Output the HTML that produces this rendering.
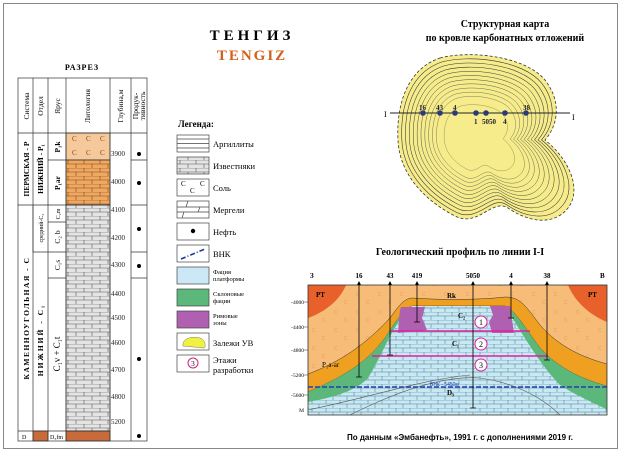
<!DOCTYPE html>
<html><head><meta charset="utf-8"><style>
html,body{margin:0;padding:0;background:#fff}
svg{display:block}
text{font-family:"Liberation Serif","DejaVu Serif",serif}
.s{font-family:"Liberation Sans","DejaVu Sans",sans-serif}
</style></head><body>
<svg width="624" height="453" viewBox="0 0 624 453" xmlns="http://www.w3.org/2000/svg">
<defs>
<pattern id="brG" width="16" height="8" patternUnits="userSpaceOnUse">
<rect width="16" height="8" fill="#e4e4e4"/><path d="M0 0H16M0 4H16M4 0V4M12 4V8" stroke="#555" stroke-width="0.6" fill="none"/></pattern>
<pattern id="brO" width="16" height="8" patternUnits="userSpaceOnUse">
<rect width="16" height="8" fill="#f0a860"/><path d="M0 0H16M0 4H16M4 0V4M12 4V8" stroke="#7a4a20" stroke-width="0.6" fill="none"/></pattern>
<pattern id="brB" width="14" height="8" patternUnits="userSpaceOnUse">
<rect width="14" height="8" fill="#c8e8f4"/><path d="M0 0H14M0 4H14M4 0V4M11 4V8" stroke="#4a7a8a" stroke-width="0.5" fill="none"/></pattern>
<pattern id="salt" width="22" height="18" patternUnits="userSpaceOnUse">
<rect width="22" height="18" fill="#f6bc78"/><text x="4" y="8" font-size="5" fill="#e8a060" class="s">C</text><text x="14" y="16" font-size="5" fill="#e8a060" class="s">C</text></pattern>
<path id="ct" d="M440 58C470 50 525 56 545 80C562 102 558 125 545 140C570 160 582 190 568 208C552 228 525 220 508 208C492 198 478 228 455 216C420 198 399 170 398 140C396 100 410 68 440 58Z" fill="none" stroke="#333" stroke-width="0.6"/>
</defs>
<rect x="3.5" y="3.5" width="614" height="445" fill="#fff" stroke="#888" stroke-width="1"/>

<text x="252" y="40" font-size="15" font-weight="bold" text-anchor="middle" letter-spacing="4">ТЕНГИЗ</text>
<text x="252" y="60" font-size="15" font-weight="bold" text-anchor="middle" fill="#d2601e" letter-spacing="2">TENGIZ</text>
<text x="82" y="70" font-size="8" font-weight="bold" text-anchor="middle" letter-spacing="1">РАЗРЕЗ</text>

<g stroke="#333" stroke-width="0.7" fill="none">
<rect x="66" y="133" width="44" height="27" fill="#f6c99a"/>
<rect x="66" y="160" width="44" height="45" fill="url(#brO)"/>
<rect x="66" y="205" width="44" height="226" fill="url(#brG)"/>
<rect x="66" y="431" width="44" height="10" fill="#c86a3a"/>
<rect x="33" y="431" width="15" height="10" fill="#c86a3a"/>
<rect x="18" y="78" width="129" height="363"/>
<path d="M18 133H147M33 78V441M48 78V441M66 78V441M110 78V441M131 78V441"/>
<path d="M18 205H110M48 160H66M33 205V252M48 222H66M33 252H66M48 278H66M18 431H110M131 160H147M131 205H147M131 252H147M131 278H147"/>
</g>
<g font-size="7" fill="#7a4a20" class="s"><text x="72" y="141">C</text><text x="86" y="141">C</text><text x="100" y="141">C</text><text x="72" y="155">C</text><text x="86" y="155">C</text><text x="100" y="155">C</text></g>
<g font-size="7" fill="#222">
<text x="111" y="156">3900</text><text x="111" y="184">4000</text><text x="111" y="212">4100</text><text x="111" y="240">4200</text><text x="111" y="267">4300</text><text x="111" y="296">4400</text><text x="111" y="320">4500</text><text x="111" y="345">4600</text><text x="111" y="372">4700</text><text x="111" y="399">4800</text><text x="111" y="424">5200</text>
</g>
<g fill="#000"><circle cx="139" cy="154" r="2"/><circle cx="139" cy="183" r="2"/><circle cx="139" cy="229" r="2"/><circle cx="139" cy="266" r="2"/><circle cx="139" cy="359" r="2"/><circle cx="139" cy="436" r="2"/></g>
<g font-size="7.5">
<text transform="translate(29,106) rotate(-90)" text-anchor="middle">Система</text>
<text transform="translate(43,106) rotate(-90)" text-anchor="middle">Отдел</text>
<text transform="translate(60,106) rotate(-90)" text-anchor="middle">Ярус</text>
<text transform="translate(90,106) rotate(-90)" text-anchor="middle">Литология</text>
<text transform="translate(123,106) rotate(-90)" text-anchor="middle">Глубина,м</text>
<text transform="translate(138,106) rotate(-90)" text-anchor="middle">Продук-</text>
<text transform="translate(145,106) rotate(-90)" text-anchor="middle">тивность</text>
<text transform="translate(29,169) rotate(-90)" text-anchor="middle" font-weight="bold">ПЕРМСКАЯ - Р</text>
<text transform="translate(43,169) rotate(-90)" text-anchor="middle" font-weight="bold">НИЖНИЙ - Р₁</text>
<text transform="translate(60,147) rotate(-90)" text-anchor="middle" font-weight="bold">P₁k</text>
<text transform="translate(60,183) rotate(-90)" text-anchor="middle" font-weight="bold">P₁ar</text>
<text transform="translate(29,318) rotate(-90)" text-anchor="middle" font-weight="bold" letter-spacing="1.5">КАМЕННОУГОЛЬНАЯ - С</text>
<text transform="translate(43,228) rotate(-90)" text-anchor="middle" font-size="6">средний-С₂</text>
<text transform="translate(43,340) rotate(-90)" text-anchor="middle" font-weight="bold" letter-spacing="2">НИЖНИЙ - С₁</text>
<text transform="translate(60,214) rotate(-90)" text-anchor="middle" font-size="6">C₂m</text>
<text transform="translate(60,237) rotate(-90)" text-anchor="middle">C₂ b</text>
<text transform="translate(60,265) rotate(-90)" text-anchor="middle">C₁s</text>
<text transform="translate(60,354) rotate(-90)" text-anchor="middle" font-size="9">C₁v + C₁t</text>
<text x="22" y="439" font-size="6">D</text><text x="50" y="439" font-size="6">D₃fm</text>
</g>

<text x="178" y="127" font-size="9" font-weight="bold">Легенда:</text>
<g stroke="#444" stroke-width="0.7">
<rect x="177" y="135" width="32" height="17" fill="#fff"/><path d="M177 139H209M177 143.5H209M177 148H209"/>
<rect x="177" y="157" width="32" height="17" fill="url(#brG)"/>
<rect x="177" y="179" width="32" height="17" fill="#fff"/>
<rect x="177" y="201" width="32" height="17" fill="#fff"/><path d="M177 207H209M177 212H209M188 201L186 207M200 207L198 212M184 212L182 218"/>
<rect x="177" y="223" width="32" height="17" fill="#fff"/>
<rect x="177" y="245" width="32" height="17" fill="#fff"/>
<rect x="177" y="267" width="32" height="17" fill="#cce8f6"/>
<rect x="177" y="289" width="32" height="17" fill="#5cb87a"/>
<rect x="177" y="311" width="32" height="17" fill="#b060b0"/>
<rect x="177" y="333" width="32" height="17" fill="#fff"/>
<rect x="177" y="355" width="32" height="17" fill="#fff"/>
</g>
<g font-size="7" class="s"><text x="181" y="186">C</text><text x="200" y="186">C</text><text x="190" y="193">C</text></g>
<circle cx="193" cy="231" r="2.2"/>
<path d="M181 259L205 249" stroke="#1a3a9a" stroke-width="1.6" stroke-dasharray="5 2 1 2"/>
<path d="M183 346C182 338 192 336 200 338C206 340 206 348 204 348Z" fill="#f2f040" stroke="#777" stroke-width="0.5"/>
<circle cx="193" cy="363" r="5" fill="#fff" stroke="#d02080" stroke-width="1"/><text x="193" y="366" font-size="7" text-anchor="middle">3</text>
<g font-size="8.5">
<text x="213" y="147">Аргиллиты</text><text x="213" y="169">Известняки</text><text x="213" y="191">Соль</text><text x="213" y="213">Мергели</text><text x="213" y="235">Нефть</text><text x="213" y="257">ВНК</text>
<text x="213" y="274" font-size="6.5">Фация</text><text x="213" y="281" font-size="6.5">платформы</text>
<text x="213" y="296" font-size="6.5">Склоновые</text><text x="213" y="303" font-size="6.5">фации</text>
<text x="213" y="318" font-size="6.5">Римовые</text><text x="213" y="325" font-size="6.5">зоны</text>
<text x="213" y="346">Залежи УВ</text>
<text x="213" y="363">Этажи</text><text x="213" y="373">разработки</text>
</g>

<!-- Map -->
<text x="505" y="27" font-size="10" font-weight="bold" text-anchor="middle">Структурная карта</text>
<text x="505" y="41" font-size="10" font-weight="bold" text-anchor="middle">по кровле карбонатных отложений</text>
<path d="M440 58C470 50 525 56 545 80C562 102 558 125 545 140C570 160 582 190 568 208C552 228 525 220 508 208C492 198 478 228 455 216C420 198 399 170 398 140C396 100 410 68 440 58Z" fill="#f6ec8c" stroke="#333" stroke-width="0.8" stroke-dasharray="3 2"/>
<use href="#ct" transform="translate(475 138) scale(0.95) translate(-475 -138)"/>
<use href="#ct" transform="translate(475 138) scale(0.9) translate(-475 -138)"/>
<use href="#ct" transform="translate(475 138) scale(0.85) translate(-475 -138)"/>
<use href="#ct" transform="translate(475 138) scale(0.8) translate(-475 -138)"/>
<use href="#ct" transform="translate(475 138) scale(0.75) translate(-475 -138)"/>
<use href="#ct" transform="translate(475 138) scale(0.7) translate(-475 -138)"/>
<use href="#ct" transform="translate(475 138) scale(0.65) translate(-475 -138)"/>
<use href="#ct" transform="translate(475 138) scale(0.6) translate(-475 -138)"/>
<use href="#ct" transform="translate(475 138) scale(0.55) translate(-475 -138)"/>
<use href="#ct" transform="translate(475 138) scale(0.5) translate(-475 -138)"/>
<use href="#ct" transform="translate(475 138) scale(0.4) translate(-475 -138)"/>
<path d="M390 113H570" stroke="#222" stroke-width="0.9"/>
<text x="384" y="117" font-size="8">I</text><text x="572" y="120" font-size="8">I</text>
<g fill="#2a3a7a"><circle cx="423" cy="113" r="2.8"/><circle cx="440" cy="113" r="2.8"/><circle cx="455" cy="113" r="2.8"/><circle cx="476" cy="113" r="2.8"/><circle cx="486" cy="113" r="2.8"/><circle cx="505" cy="113" r="2.8"/><circle cx="526" cy="113" r="2.8"/></g>
<g font-size="7" font-weight="bold" class="s" fill="#222"><text x="419" y="110">16</text><text x="436" y="110">43</text><text x="453" y="110">4</text><text x="474" y="124">1</text><text x="482" y="124">5050</text><text x="503" y="124">4</text><text x="523" y="110">38</text></g>

<!-- Profile -->
<text x="460" y="255" font-size="10" font-weight="bold" text-anchor="middle">Геологический профиль по линии I-I</text>
<g class="s" font-size="7" font-weight="bold"><text x="310" y="278">З</text><text x="600" y="278">В</text>
<text x="359" y="278" text-anchor="middle">16</text><text x="390" y="278" text-anchor="middle">43</text><text x="417" y="278" text-anchor="middle">419</text><text x="473" y="278" text-anchor="middle">5050</text><text x="511" y="278" text-anchor="middle">4</text><text x="547" y="278" text-anchor="middle">38</text></g>
<g class="s" font-size="5.5" text-anchor="end"><text x="304" y="304">-4000</text><text x="304" y="329">-4400</text><text x="304" y="352">-4800</text><text x="304" y="377">-5200</text><text x="304" y="397">-5600</text><text x="304" y="412">M</text></g>
<svg x="308" y="285" width="299" height="130" viewBox="308 285 299 130">
<rect x="308" y="285" width="299" height="130" fill="url(#salt)"/>
<path d="M308 285H346C340 300 325 312 308 318Z" fill="#e8602a"/>
<path d="M607 285H568C575 302 590 315 607 322Z" fill="#e8602a"/>
<path d="M308 374C340 362 365 345 390 318C400 304 404 299 412 298C440 300 480 300 505 297C520 297 525 305 540 325C560 348 585 358 607 364V386C585 380 560 370 540 348C525 328 515 310 505 306H412C405 308 395 322 385 338C365 365 340 378 308 392Z" fill="#f0a020" stroke="#333" stroke-width="0.5"/>
<path d="M308 392C340 378 365 365 385 338C395 322 405 308 412 306H505C515 310 525 328 540 348C560 370 585 380 607 386V415H308Z" fill="#5cb87a"/>
<path d="M412 306H505C520 330 540 365 560 385C580 398 600 405 607 410V415H308V402C330 398 355 392 368 378C385 350 395 320 412 306Z" fill="url(#brB)"/>
<path d="M401 307H425L422 318L427 330L398 333C399 322 399 312 401 307Z" fill="#b060b0"/>
<path d="M490 306H510L514 333H492L489 322L493 315Z" fill="#b060b0"/>
<path d="M390 331H530M372 356H548" stroke="#e020a0" stroke-width="1.6"/>
<path d="M308 387H607" stroke="#2040b0" stroke-width="1.6" stroke-dasharray="5 2"/>
<path d="M350 415C390 395 440 375 480 378C510 382 540 395 560 415M308 410C380 395 420 380 470 375" stroke="#555" stroke-width="0.6" fill="none"/>
<circle cx="481" cy="322" r="6" fill="#fff" stroke="#e020a0" stroke-width="1"/><circle cx="481" cy="344" r="6" fill="#fff" stroke="#e020a0" stroke-width="1"/><circle cx="481" cy="365" r="6" fill="#fff" stroke="#e020a0" stroke-width="1"/>
<g font-size="8" text-anchor="middle" class="s"><text x="481" y="325">1</text><text x="481" y="347">2</text><text x="481" y="368">3</text></g>
<g class="s" font-size="7" font-weight="bold"><text x="316" y="297">PT</text><text x="588" y="297">PT</text><text x="447" y="298">Rk</text><text x="458" y="318">C₂</text><text x="452" y="346">C₁</text><text x="447" y="395">D₃</text><text x="322" y="367" font-weight="normal">P₁a-ar</text></g>
<text x="430" y="386" font-size="5" fill="#2040b0" class="s">ВНК - 5450м</text>
</svg>
<rect x="308" y="285" width="299" height="130" fill="none" stroke="#333" stroke-width="0.8"/>
<g stroke="#000" stroke-width="0.8"><path d="M359 283V377M390 283V355M417 283V322M473 283V408M511 283V318M547 283V360"/>
<path d="M356 377H362M387 355H393M414 322H420M470 408H476M508 318H514M544 360H550"/></g>
<g fill="#000"><path d="M359 281l-2 4h4zM390 281l-2 4h4zM417 281l-2 4h4zM473 281l-2 4h4zM511 281l-2 4h4zM547 281l-2 4h4z"/></g>
<g stroke="#333" stroke-width="0.6"><path d="M304 302H308M304 327H308M304 350H308M304 375H308M304 395H308"/></g>
<text x="460" y="440" font-size="8" font-weight="bold" text-anchor="middle" class="s">По данным «Эмбанефть», 1991 г. с дополнениями 2019 г.</text>
</svg>
</body></html>
